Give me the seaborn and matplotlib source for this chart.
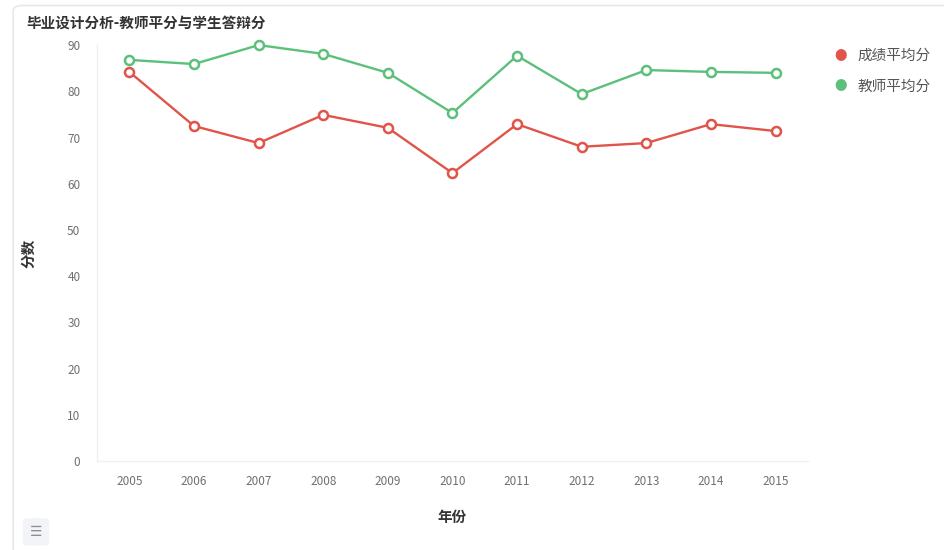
import matplotlib
matplotlib.use('Agg')
import pandas as pd
import matplotlib.pyplot as plt
import seaborn as sns
from matplotlib.patches import FancyBboxPatch

# 数据
years = ['2005', '2006', '2007', '2008', '2009', '2010', '2011', '2012', '2013', '2014', '2015']
score_avg = [84.2, 72.5, 68.8, 74.9, 72.1, 62.3, 72.9, 68.0, 68.8, 72.9, 71.4]
teacher_avg = [86.8, 85.9, 90.0, 88.1, 84.0, 75.3, 87.7, 79.4, 84.6, 84.2, 84.0]
series_names = ['成绩平均分', '教师平均分']
colors = ['#e1544a', '#5cc07b']

df = pd.DataFrame({'年份': years * 2,
                   '分数': score_avg + teacher_avg,
                   '系列': [series_names[0]] * len(years) + [series_names[1]] * len(years)})

sns.set_style('white')
plt.rcParams['font.family'] = ['Noto Sans CJK SC', 'DejaVu Sans']

fig = plt.figure(figsize=(9.44, 5.5), dpi=100)
ax = fig.add_axes([0.1028, 0.1618, 0.753, 0.7562])

for name, col in zip(series_names, colors):
    sns.lineplot(data=df[df['系列'] == name], x='年份', y='分数', ax=ax,
                 color=col, lw=1.7, marker='o', markersize=6.5,
                 markerfacecolor='white', markeredgecolor=col, markeredgewidth=1.8,
                 label=name, sort=False, clip_on=False)

ax.set_xlim(-0.5, len(years) - 0.5)
ax.set_ylim(0, 90)
ax.set_yticks(range(0, 91, 10))
ax.tick_params(axis='both', length=0, labelsize=8.5, colors='#707070')
ax.tick_params(axis='x', pad=10)
ax.tick_params(axis='y', pad=12)
for s in ['top', 'right']:
    ax.spines[s].set_visible(False)
for s in ['left', 'bottom']:
    ax.spines[s].set_color('#f0f0f0')
    ax.spines[s].set_linewidth(1)

ax.set_xlabel('年份', fontsize=10.5, fontweight='bold', color='#333333', labelpad=15)
ax.set_ylabel('分数', fontsize=10.5, fontweight='bold', color='#333333', labelpad=22)

# 图例
ax.legend_.remove()
for i, (name, col) in enumerate(zip(series_names, colors)):
    fig.text(0.891, 0.898 - i * 0.056, '●', color=col, fontsize=9, ha='center', va='center')
    fig.text(0.908, 0.898 - i * 0.056, name, color='#555555', fontsize=10.5, ha='left', va='center')

# 标题
fig.text(0.028, 0.958, '毕业设计分析-教师平分与学生答辩分', fontsize=10.5, fontweight='bold',
         color='#333333', ha='left', va='center')

# 外框与图标
frame = FancyBboxPatch((0.014, -0.05), 1.0, 1.04, boxstyle='round,pad=0,rounding_size=0.01',
                       transform=fig.transFigure, fc='none', ec='#e8e8e8', lw=1.2)
fig.patches.append(frame)
icon = FancyBboxPatch((0.024, 0.008), 0.028, 0.05, boxstyle='round,pad=0,rounding_size=0.006',
                      transform=fig.transFigure, fc='#f3f4f7', ec='none')
fig.patches.append(icon)
fig.text(0.038, 0.033, '☰', fontsize=10, color='#8a8f99', ha='center', va='center',
         family=['DejaVu Sans'])

fig.savefig('out.png', dpi=100)
